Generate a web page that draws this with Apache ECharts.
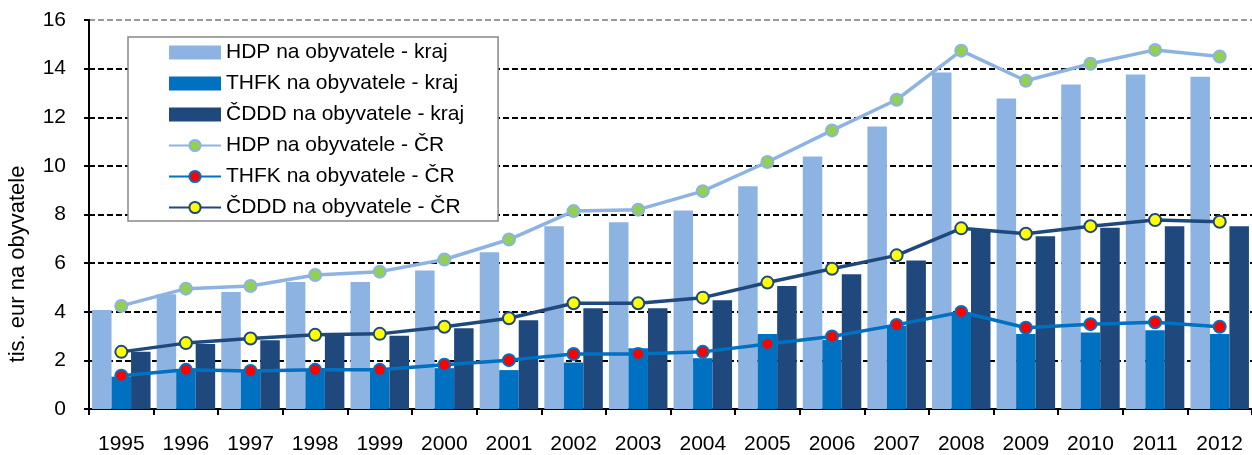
<!DOCTYPE html>
<html>
<head>
<meta charset="utf-8">
<script src="https://cdn.jsdelivr.net/npm/echarts@6/dist/echarts.min.js"></script>
<style>
    html, body { margin: 0; padding: 0; background: #fff; }
    #chart { width: 1252px; height: 455px; }
</style>
</head>
<body>
<div id="chart"></div>
<script>
const years = ["1995", "1996", "1997", "1998", "1999", "2000", "2001", "2002", "2003",
    "2004", "2005", "2006", "2007", "2008", "2009", "2010", "2011", "2012"];

// bars - kraj
const hdpKraj = [4.07, 4.72, 4.81, 5.22, 5.22, 5.70, 6.45, 7.52, 7.68, 8.16, 9.16, 10.39, 11.62, 13.84, 12.77, 13.35, 13.76, 13.67];
const thfkKraj = [1.33, 1.6, 1.52, 1.57, 1.57, 1.68, 1.6, 1.91, 2.50, 2.09, 3.08, 2.84, 3.42, 3.9, 3.08, 3.15, 3.24, 3.08];
const cdddKraj = [2.35, 2.67, 2.83, 3.08, 3.01, 3.32, 3.65, 4.14, 4.14, 4.47, 5.06, 5.54, 6.11, 7.38, 7.11, 7.45, 7.52, 7.52];

// lines - ČR
const hdpCR = [4.24, 4.95, 5.06, 5.51, 5.65, 6.15, 6.97, 8.14, 8.2, 8.96, 10.16, 11.46, 12.72, 14.74, 13.5, 14.2, 14.77, 14.5];
const thfkCR = [1.37, 1.61, 1.56, 1.61, 1.61, 1.82, 2.01, 2.26, 2.26, 2.35, 2.67, 2.98, 3.46, 3.99, 3.34, 3.49, 3.57, 3.38];
const cdddCR = [2.35, 2.71, 2.90, 3.05, 3.09, 3.38, 3.73, 4.35, 4.35, 4.58, 5.20, 5.77, 6.32, 7.43, 7.21, 7.52, 7.77, 7.70];

const seriesNames = [
    "HDP na obyvatele - kraj",
    "THFK na obyvatele - kraj",
    "ČDDD na obyvatele - kraj",
    "HDP na obyvatele - ČR",
    "THFK na obyvatele - ČR",
    "ČDDD na obyvatele - ČR",
];

const font = "'Liberation Sans', Arial, sans-serif";
const lightBlue = "#8DB3E2";
const midBlue = "#0070C0";
const darkBlue = "#1F497D";

const barSeries = (name, data, color) => ({
    name,
    type: "bar",
    data,
    barWidth: 19.5,
    barGap: "0%",
    itemStyle: { color },
    z: 2,
});

const lineSeries = (name, data, color, markerColor) => ({
    name,
    type: "line",
    data,
    symbol: "circle",
    symbolSize: 12,
    showAllSymbol: true,
    lineStyle: { color, width: 3.5 },
    itemStyle: { color: markerColor, borderColor: color, borderWidth: 2 },
    z: 5,
});

const gridLineColors = ["#000", "#000", "#000", "#000", "#000", "#000", "#000", "#000", "#999"];

const option = {
    animation: false,
    backgroundColor: "#fff",
    textStyle: { fontFamily: font },
    grid: {
        left: 89,
        top: 20,
        width: 1167,
        height: 390,
    },
    legend: {
        orient: "vertical",
        left: 128,
        top: 37,
        padding: [5, 34, 3, 40],
        itemWidth: 52,
        itemHeight: 14,
        itemGap: 10,
        borderColor: "#888",
        borderWidth: 1.5,
        backgroundColor: "#fff",
        textStyle: { fontFamily: font, fontSize: 21, color: "#000" },
        data: [
            { name: seriesNames[0], icon: "rect", itemStyle: { borderWidth: 0 } },
            { name: seriesNames[1], icon: "rect", itemStyle: { borderWidth: 0 } },
            { name: seriesNames[2], icon: "rect", itemStyle: { borderWidth: 0 } },
            seriesNames[3],
            seriesNames[4],
            seriesNames[5],
        ],
    },
    xAxis: {
        type: "category",
        data: years,
        axisLine: { lineStyle: { color: "#000", width: 2 } },
        axisTick: { show: true, length: 6, lineStyle: { color: "#000", width: 2 } },
        axisLabel: { fontFamily: font, fontSize: 21, color: "#000", margin: 25 },
    },
    yAxis: {
        type: "value",
        min: 0,
        max: 16,
        interval: 2,
        axisLine: { show: true, lineStyle: { color: "#000", width: 2 } },
        axisTick: { show: true, length: 5, lineStyle: { color: "#000", width: 2 } },
        axisLabel: { fontFamily: font, fontSize: 21, color: "#000", margin: 23 },
        splitLine: {
            show: true,
            lineStyle: { color: gridLineColors, type: [6, 3], width: 2 },
        },
    },
    graphic: [
        {
            type: "text",
            x: 7,
            y: 264,
            rotation: Math.PI / 2,
            style: {
                text: "tis. eur na obyvatele",
                font: "22px " + font,
                fill: "#000",
                align: "center",
                verticalAlign: "top",
            },
        },
    ],
    series: [
        barSeries(seriesNames[0], hdpKraj, lightBlue),
        barSeries(seriesNames[1], thfkKraj, midBlue),
        barSeries(seriesNames[2], cdddKraj, darkBlue),
        lineSeries(seriesNames[3], hdpCR, lightBlue, "#92D050"),
        lineSeries(seriesNames[4], thfkCR, midBlue, "#FF0000"),
        lineSeries(seriesNames[5], cdddCR, darkBlue, "#FFFF00"),
    ],
};

const chart = echarts.init(document.getElementById("chart"), null, { renderer: "canvas" });
chart.setOption(option);
</script>
</body>
</html>
